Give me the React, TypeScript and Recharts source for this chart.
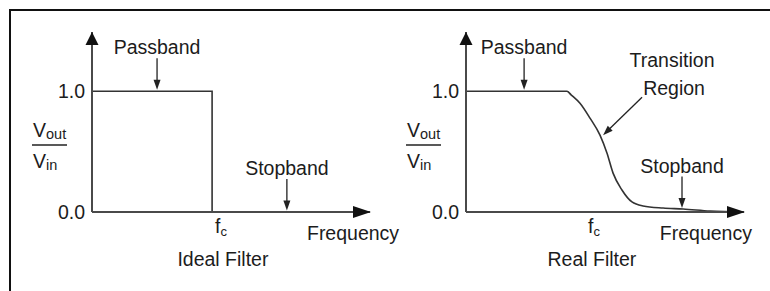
import React from 'react';
import { LineChart, Line, XAxis, YAxis, ReferenceDot } from 'recharts';

// ---- data ----
const idealFreq = [0, 43.2, 43.2, 100];
const idealGain = [1, 1, 0, 0];

const realFreq = [0, 30, 36.3, 37.8, 41, 44.6, 48.2, 50.7, 52.9, 56.1, 59.7, 63.7, 70.9, 78.1, 87.8, 100];
const realGain = [1, 1, 1, 0.97, 0.9, 0.777, 0.636, 0.488, 0.322, 0.182, 0.083, 0.05, 0.033, 0.025, 0.008, 0];

const yTicks = [0, 1];
const cutoffIdeal = 43.2;
const cutoffReal = 42.8;
const freqMax = 100;
const gainMax = 1.49;

// annotation anchors (data units)
const idealNotes = [
  { label: 'Passband', f: 23.4, g: 1 },
  { label: 'Stopband', f: 70.1, g: 0 },
];
const realNotes = [
  { label: 'Passband', f: 20.9, g: 1 },
  { label: 'Stopband', f: 77.7, g: 0.02 },
];
const transitionNote = { lines: ['Transition', 'Region'], f: 49.3, g: 0.636 };
const idealCaption = { text: 'Ideal Filter', f: 47.1 };
const realCaption = { text: 'Real Filter', f: 45.3 };
const idealFreqLabel = { text: 'Frequency', f: 93.9 };
const realFreqLabel = { text: 'Frequency', f: 86.3 };

const idealRows = idealFreq.map((f, i) => ({ f, g: idealGain[i] }));
const realRows = realFreq.map((f, i) => ({ f, g: realGain[i] }));

// ---- styles ----
const FONT = '"Liberation Sans", Arial, Helvetica, sans-serif';
const TXT = '#1c1c1c';
const AXIS = '#4a4a4a';
const CURVE = '#333';
const FS = 19.5;

const H = 291;

function arrowPath(x1: number, y1: number, x2: number, y2: number, len = 10, half = 3.5) {
  const a = Math.atan2(y2 - y1, x2 - x1);
  const dx = Math.cos(a), dy = Math.sin(a);
  const bx = x2 - dx * len, by = y2 - dy * len;
  const px = -dy * half, py = dx * half;
  return {
    line: { x1, y1, x2: x2 - dx * len * 0.7, y2: y2 - dy * len * 0.7 },
    pts: `${x2},${y2} ${bx + px},${by + py} ${bx - px},${by - py}`,
  };
}

function Arrow({ x1, y1, x2, y2 }: { x1: number; y1: number; x2: number; y2: number }) {
  const p = arrowPath(x1, y1, x2, y2);
  return (
    <g>
      <line {...p.line} stroke="#222" strokeWidth={1.3} />
      <polygon points={p.pts} fill="#222" />
    </g>
  );
}

const downNote = (label: string) => (props: any) => {
  const { cx, cy } = props;
  return (
    <g>
      <text x={cx} y={cy - 37} textAnchor="middle" fontFamily={FONT} fontSize={FS} fill={TXT}>
        {label}
      </text>
      <Arrow x1={cx} y1={cy - 33} x2={cx} y2={cy - 1.5} />
    </g>
  );
};

const transitionShape = (props: any) => {
  const { cx, cy } = props;
  return (
    <g>
      <text x={cx + 69} y={cy - 68} textAnchor="middle" fontFamily={FONT} fontSize={FS} fill={TXT}>
        {transitionNote.lines[0]}
      </text>
      <text x={cx + 71} y={cy - 40} textAnchor="middle" fontFamily={FONT} fontSize={FS} fill={TXT}>
        {transitionNote.lines[1]}
      </text>
      <Arrow x1={cx + 39} y1={cy - 38} x2={cx} y2={cy} />
    </g>
  );
};

const textBelow = (text: string, dy: number) => (props: any) => {
  const { cx, cy } = props;
  return (
    <text x={cx} y={cy + dy} textAnchor="middle" fontFamily={FONT} fontSize={FS} fill={TXT}>
      {text}
    </text>
  );
};

const upArrow = (props: any) => {
  const { cx, cy } = props;
  return <polygon points={`${cx},${cy} ${cx - 6.5},${cy + 13} ${cx + 6.5},${cy + 13}`} fill="#111" />;
};
const rightArrow = (props: any) => {
  const { cx, cy } = props;
  return <polygon points={`${cx + 1},${cy} ${cx - 17},${cy - 6} ${cx - 17},${cy + 6}`} fill="#111" />;
};

const FcTick = (props: any) => {
  const { x, y } = props;
  return (
    <text x={x + 3} y={y + 21} fontFamily={FONT} fontSize={FS} fill={TXT}>
      f
      <tspan fontSize={13} dy={3}>c</tspan>
    </text>
  );
};

const YTick = (props: any) => {
  const { x, y, payload } = props;
  return (
    <text x={x} y={y} dy="0.36em" textAnchor="end" fontFamily={FONT} fontSize={FS} fill={TXT}>
      {Number(payload.value).toFixed(1)}
    </text>
  );
};

const RatioLabel = (props: any) => {
  const vb = props.viewBox || {};
  const axisX = (vb.x ?? 0) + (vb.width ?? 0);
  const bottom = (vb.y ?? 0) + (vb.height ?? 0);
  const cx = axisX - 43;
  const ly = bottom - 67;
  return (
    <g>
      <text x={cx - 16} y={ly - 8} fontFamily={FONT} fontSize={FS} fill={TXT}>
        V<tspan fontSize={14.5} dy={2}>out</tspan>
      </text>
      <line x1={cx - 17} y1={ly} x2={cx + 18} y2={ly} stroke="#222" strokeWidth={1.3} />
      <text x={cx - 16} y={ly + 23} fontFamily={FONT} fontSize={FS} fill={TXT}>
        V<tspan fontSize={14.5} dy={2}>in</tspan>
      </text>
    </g>
  );
};

function FilterPanel({ rows, cutoff, notes, caption, freqLabel, smooth, extra, width, right }: any) {
  return (
    <LineChart width={width} height={H} data={rows} margin={{ top: 32, right, bottom: 49, left: 52 }}>
      <XAxis
        dataKey="f"
        type="number"
        domain={[0, freqMax]}
        allowDataOverflow
        ticks={[cutoff]}
        tick={<FcTick />}
        tickLine={false}
        tickSize={0}
        tickMargin={0}
        axisLine={{ stroke: AXIS, strokeWidth: 2 }}
        height={30}
      />
      <YAxis
        type="number"
        domain={[0, gainMax]}
        allowDataOverflow
        ticks={yTicks}
        tick={<YTick />}
        tickLine={false}
        tickSize={0}
        tickMargin={7}
        axisLine={{ stroke: AXIS, strokeWidth: 2 }}
        width={40}
        label={{ content: (p: any) => <RatioLabel {...p} /> }}
      />
      <Line
        dataKey="g"
        type={smooth ? 'monotone' : 'linear'}
        stroke={CURVE}
        strokeWidth={1.6}
        dot={false}
        activeDot={false}
        isAnimationActive={false}
      />
      <ReferenceDot x={0} y={gainMax} r={1} shape={upArrow} />
      <ReferenceDot x={freqMax} y={0} r={1} shape={rightArrow} />
      {notes.map((n: any) => (
        <ReferenceDot key={n.label} x={n.f} y={n.g} r={1} shape={downNote(n.label)} />
      ))}
      <ReferenceDot x={freqLabel.f} y={0} r={1} shape={textBelow(freqLabel.text, 28)} />
      <ReferenceDot x={caption.f} y={0} r={1} shape={textBelow(caption.text, 54)} />
      {extra}
    </LineChart>
  );
}

export default function App() {
  return (
    <div style={{ position: 'absolute', left: 0, top: 0, width: 770, height: 291, background: '#fff', overflow: 'hidden' }}>
      <div
        style={{
          position: 'absolute',
          left: 9,
          top: 9,
          width: 800,
          height: 300,
          borderTop: '2px solid #111',
          borderLeft: '2px solid #111',
        }}
      />
      <div style={{ position: 'absolute', left: 0, top: 0 }}>
        <FilterPanel
          rows={idealRows}
          cutoff={cutoffIdeal}
          notes={idealNotes}
          caption={idealCaption}
          freqLabel={idealFreqLabel}
          smooth={false}
          width={400}
          right={30}
        />
      </div>
      <div style={{ position: 'absolute', left: 374, top: 0 }}>
        <FilterPanel
          rows={realRows}
          cutoff={cutoffReal}
          notes={realNotes}
          caption={realCaption}
          freqLabel={realFreqLabel}
          smooth={true}
          width={390}
          right={20}
          extra={
            <ReferenceDot x={transitionNote.f} y={transitionNote.g} r={1} shape={transitionShape} />
          }
        />
      </div>
    </div>
  );
}
